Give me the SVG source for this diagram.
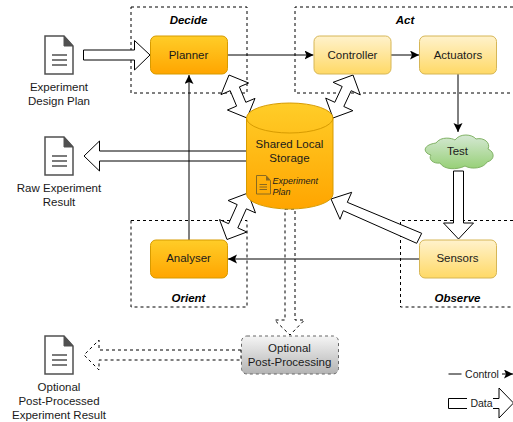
<svg xmlns="http://www.w3.org/2000/svg" width="513" height="422" viewBox="0 0 513 422">
<style>
text{font-family:"Liberation Sans",Arial,sans-serif;font-size:11.5px;fill:#1a1a1a;text-anchor:middle}
.sec{font-weight:bold;font-style:italic;font-size:11.5px;fill:#000}
.leg{font-size:10.5px}
.small{font-size:9px;font-style:italic;text-anchor:start}
.box{fill:none;stroke:#000;stroke-width:1;stroke-dasharray:3 3}
.or{fill:url(#gO);stroke:#d79b00}
.ye{fill:url(#gY);stroke:#d6b656}
.fat{fill:#fff;stroke:#000;stroke-width:1}
.fatd{fill:#fff;stroke:#000;stroke-width:1;stroke-dasharray:3 3}
.ln{fill:none;stroke:#000;stroke-width:1}
.doc{fill:#fff;stroke:#505050;stroke-width:1.5}
.dk{fill:#505050;stroke:#505050}
.dl{stroke:#505050;stroke-width:1.5}
</style>
<defs>
<linearGradient id="gO" x1="0" y1="0" x2="0" y2="1"><stop offset="0" stop-color="#ffcd28"/><stop offset="1" stop-color="#ffa500"/></linearGradient>
<linearGradient id="gY" x1="0" y1="0" x2="0" y2="1"><stop offset="0" stop-color="#fff2cc"/><stop offset="1" stop-color="#ffd966"/></linearGradient>
<linearGradient id="gG" x1="0" y1="0" x2="0" y2="1"><stop offset="0" stop-color="#d5e8d4"/><stop offset="1" stop-color="#97d077"/></linearGradient>
<linearGradient id="gS" x1="0" y1="0" x2="0" y2="1"><stop offset="0" stop-color="#f5f5f5"/><stop offset="1" stop-color="#b3b3b3"/></linearGradient>
<marker id="ah" markerUnits="userSpaceOnUse" markerWidth="10" markerHeight="10" refX="9" refY="4.5" orient="auto"><path d="M0 0L9 4.5L0 9L2 4.5Z" fill="#000"/></marker>
<g id="docIcon"><path class="doc" d="M0 0H19L28 10V38H0Z"/><path class="dk" d="M19 0L28 10H19Z"/><path class="dl" d="M7 19H22M7 24H22M7 29H22"/></g>
</defs>
<rect width="513" height="422" fill="#fff"/>
<g id="sections">
<rect class="box" x="131" y="7" width="116" height="86"/>
<path class="box" d="M513 7H295V93H513"/>
<rect class="box" x="131" y="220.5" width="116" height="86.5"/>
<path class="box" d="M513 220.5H400.5V307H513"/>
<text class="sec" x="188.5" y="24">Decide</text>
<text class="sec" x="405" y="24">Act</text>
<text class="sec" x="188.5" y="302">Orient</text>
<text class="sec" x="457.5" y="302">Observe</text>
</g>
<g id="connectors">
<polygon class="fat" points="83.5,50 134.5,50 134.5,40.5 150,55 134.5,70 134.5,60 83.5,60"/>
<polygon class="fat" points="246.5,151 99.5,151 99.5,141 84,156 99.5,171 99.5,161 246.5,161"/>
<polygon class="fat" points="453.5,171 463.5,171 463.5,223 473.5,223 458.5,239 443.5,223 453.5,223"/>
<polygon class="fat" points="331,199 351.7,192.3 347.3,202.3 421.7,233.3 416.7,243.3 343.3,210.7 340,219.3"/>
<polygon class="fat" points="229,75 248.6,83 239.4,86.9 245.8,102.3 255,98.4 247,118 227.4,110 236.6,106.1 230.2,90.7 221,94.6"/>
<polygon class="fat" points="353,75 360.3,94.9 351.2,90.7 343.8,106.5 352.9,110.7 333,118 325.7,98.1 334.8,102.3 342.2,86.5 333.1,82.3"/>
<polygon class="fat" points="227,239.5 246.9,232 237.8,227.9 246.4,208.8 255.5,212.9 248,193 228.1,200.5 237.2,204.6 228.6,223.7 219.5,219.6"/>
<polygon class="fatd" points="285,209 295,209 295,320 304.5,320 290,335 274.5,320 285,320"/>
<polygon class="fatd" points="241,350 99,350 99,340 84,355 99,370 99,360 241,360"/>
<path class="ln" marker-end="url(#ah)" d="M227.5 55H313.5"/>
<path class="ln" marker-end="url(#ah)" d="M391 55H419"/>
<path class="ln" marker-end="url(#ah)" d="M458 74V132"/>
<path class="ln" marker-end="url(#ah)" d="M419 259H228"/>
<path class="ln" marker-end="url(#ah)" d="M189 240V75"/>
</g>
<g id="planner"><rect class="or" x="150.5" y="36" width="77" height="38" rx="5.5"/><text x="188.5" y="59">Planner</text></g>
<g id="controller"><rect class="ye" x="314" y="36" width="77" height="38" rx="5.5"/><text x="352.5" y="59">Controller</text></g>
<g id="actuators"><rect class="ye" x="419.5" y="36" width="77" height="38" rx="5.5"/><text x="458" y="59">Actuators</text></g>
<g id="analyser"><rect class="or" x="150.5" y="240" width="77" height="38" rx="5.5"/><text x="188.5" y="262">Analyser</text></g>
<g id="sensors"><rect class="ye" x="419.5" y="240" width="77" height="38" rx="5.5"/><text x="457.5" y="262">Sensors</text></g>
<g id="storage">
<path class="or" d="M246.5 118A43.25 15 0 0 1 333 118V194A43.25 15 0 0 1 246.5 194Z"/>
<path fill="none" stroke="#d79b00" d="M246.5 118A43.25 15 0 0 0 333 118"/>
<text x="289.5" y="148">Shared Local</text>
<text x="289.5" y="162">Storage</text>
<path fill="none" stroke="#8a6a20" stroke-width="1" d="M256.5 175.5H266L270.5 180.5V194H256.5Z"/>
<path fill="#8a6a20" d="M266 175.5L270.5 180.5H266Z"/>
<path fill="none" stroke="#8a6a20" d="M259.5 184.5H267M259.5 187H267M259.5 189.5H267"/>
<text class="small" x="272.5" y="184">Experiment</text>
<text class="small" x="272.5" y="195">Plan</text>
</g>
<g id="test">
<path fill="url(#gG)" stroke="#82b366" d="M436 143C441 136 452 138 455 140C460 133 472 134 476 139C484 137 491 143 488 149C495 152 495 160 487 162C484 168 472 170 465 166C457 170 444 170 440 163C433 164 428 159 431 155C423 153 422 145 436 143Z"/>
<text x="457.5" y="155">Test</text>
</g>
<g id="postprocessing"><rect x="241.5" y="336" width="97" height="38" rx="5.5" fill="url(#gS)" stroke="#666" stroke-dasharray="3 3"/><text x="289.5" y="352">Optional</text><text x="289.5" y="366">Post-Processing</text></g>
<g id="doc-design"><use href="#docIcon" x="45" y="36"/><text x="59" y="91">Experiment</text><text x="59" y="105">Design Plan</text></g>
<g id="doc-raw"><use href="#docIcon" x="45" y="137"/><text x="59" y="192">Raw Experiment</text><text x="59" y="206">Result</text></g>
<g id="doc-post"><use href="#docIcon" x="45" y="336"/><text x="59" y="391">Optional</text><text x="59" y="405">Post-Processed</text><text x="59" y="419">Experiment Result</text></g>
<g id="legend">
<path class="ln" d="M448.5 374H461.5"/>
<text class="leg" x="482" y="378">Control</text>
<path class="ln" marker-end="url(#ah)" d="M502 374H513"/>
<path class="ln" d="M467 398.5H448.5V408.5H467"/>
<text class="leg" x="481.5" y="407">Data</text>
<path class="ln" d="M493 398.5H499V388L513.5 403L499 418V408.5H493"/>
</g>
</svg>
